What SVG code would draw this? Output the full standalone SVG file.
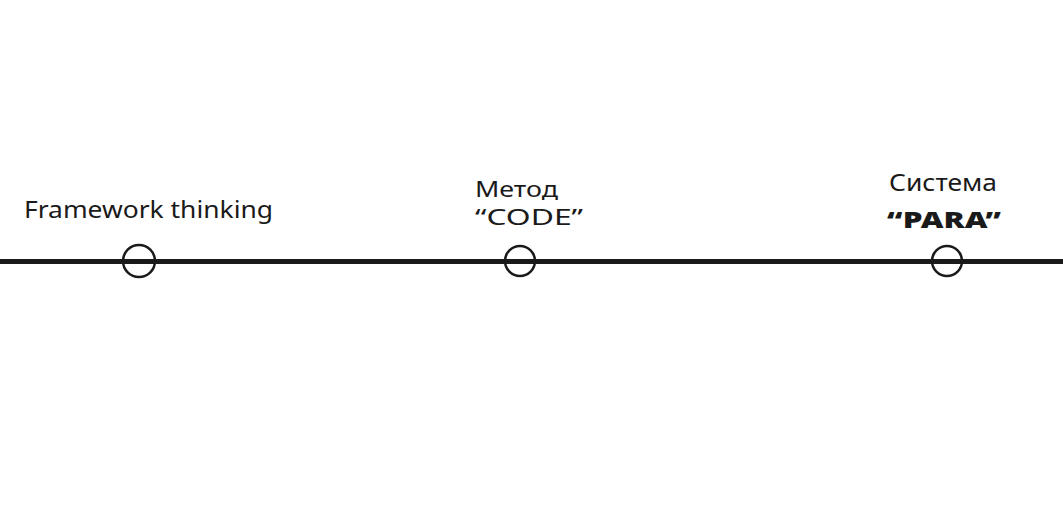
<svg xmlns="http://www.w3.org/2000/svg" width="1063" height="527" viewBox="0 0 1063 527">
<style>
.lbl{font-family:"Noto Sans","Liberation Sans",sans-serif;font-size:23px;fill:#1a1a1a}
.sm{font-size:21px}
.bold{font-family:"Noto Sans","Liberation Sans",sans-serif;font-size:23px;font-weight:900;fill:#1a1a1a}
.dot{fill:none;stroke:#1a1a1a;stroke-width:2.5}
</style>
<rect width="1063" height="527" fill="#ffffff"/>
<g id="connectors">
<line x1="0" y1="261.5" x2="1063" y2="261.5" stroke="#1a1a1a" stroke-width="5"/>
</g>
<g id="node-framework">
<circle class="dot" cx="139" cy="261" r="16"/>
<text class="lbl" x="24" y="218" textLength="249" lengthAdjust="spacingAndGlyphs">Framework thinking</text>
</g>
<g id="node-code">
<circle class="dot" cx="520" cy="261" r="15"/>
<text class="lbl sm" x="475" y="197" textLength="83" lengthAdjust="spacingAndGlyphs">Метод</text>
<text class="lbl sm" x="475" y="225" textLength="108" lengthAdjust="spacingAndGlyphs">“CODE”</text>
</g>
<g id="node-para">
<circle class="dot" cx="947" cy="261" r="15"/>
<text class="lbl" x="889" y="191" textLength="108" lengthAdjust="spacingAndGlyphs">Система</text>
<text class="bold" x="887" y="228" textLength="114" lengthAdjust="spacingAndGlyphs">“PARA”</text>
</g>
</svg>
